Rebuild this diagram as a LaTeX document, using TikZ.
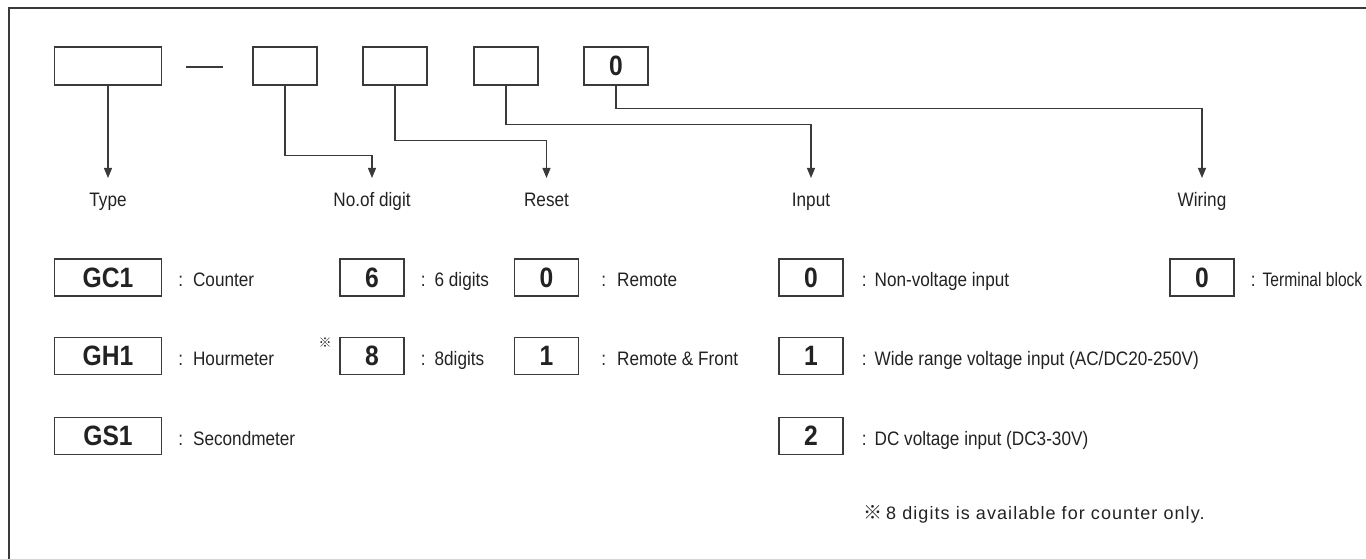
\documentclass[tikz,border=0pt]{standalone}
\usepackage{fontspec}
\setmainfont{Liberation Sans}[FakeStretch=0.88]
\newfontfamily\narrowfont{Liberation Sans}[FakeStretch=0.8]
\newfontfamily\notefont{Liberation Sans}[LetterSpace=6]
\newfontfamily\cjk{Noto Sans CJK JP}
\usetikzlibrary{arrows.meta,positioning}
\definecolor{ink}{HTML}{222222}
\definecolor{rule}{HTML}{3A3A3A}

\begin{document}
\begin{tikzpicture}[
  x=1pt, y=-1pt,
  font=\fontsize{19.5}{22}\selectfont,
  text=ink,
  frame/.style={draw=rule, line width=2pt},
  code/.style={draw=rule, line width=1.3pt, minimum width=64pt, minimum height=37pt, inner sep=0pt, font=\fontsize{28}{30}\selectfont\bfseries},
  widecode/.style={code, minimum width=107pt},
  link/.style={draw=rule, line width=1.1pt},
  arr/.style={link, -{Triangle[length=10pt,width=8pt]}},
  lbl/.style={inner sep=0pt, outer ysep=15pt, text height=13.6pt, text depth=4pt, anchor=north},
  desc/.style={inner sep=0pt, text height=18pt, text depth=0pt, anchor=west}
]
\useasboundingbox (0,0) rectangle (1366,559);

\draw[frame] (9,559) -- (9,8) -- (1366,8);

% model code
\node[widecode, minimum height=38pt] (t1) at (108,66) {};
\draw[link] (186,67) -- (223,67);
\node[code, minimum height=38pt] (t2) at (285,66) {};
\node[code, minimum height=38pt] (t3) at (395,66) {};
\node[code, minimum height=38pt] (t4) at (506,66) {};
\node[code, minimum height=38pt] (t5) at (616,66) {0};

\node[lbl] (lType) at (108,178) {Type};
\node[lbl] (lDigit) at (372,178) {No.of digit};
\node[lbl] (lReset) at (546.5,178) {Reset};
\node[lbl] (lInput) at (811,178) {Input};
\node[lbl] (lWiring) at (1202,178) {Wiring};

\draw[arr] (t1.south) -- (lType.north);
\draw[arr] (t2.south) -- ++(0,70) -| (lDigit.north);
\draw[arr] (t3.south) -- ++(0,55) -| (lReset.north);
\draw[arr] (t4.south) -- ++(0,39) -| (lInput.north);
\draw[arr] (t5.south) -- ++(0,23) -| (lWiring.north);

% type
\node[widecode] (gc1) at (108,277.5) {GC1};
\node[widecode] (gh1) at (108,356) {GH1};
\node[widecode] (gs1) at (108,436) {GS1};
\node[desc, right=16pt of gc1] (dgc1) {:\hspace{10pt}Counter};
\node[desc, right=16pt of gh1] (dgh1) {:\hspace{10pt}Hourmeter};
\node[desc, right=16pt of gs1] (dgs1) {:\hspace{10pt}Secondmeter};

% digits
\node[code] (d6) at (372,277.5) {6};
\node[code] (d8) at (372,356) {8};
\node[inner sep=0pt] (mark8) at (325,343) {\cjk\fontsize{13}{13}\selectfont ※};
\node[desc, right=16pt of d6] (dd6) {:\hspace{9pt}6 digits};
\node[desc, right=16pt of d8] (dd8) {:\hspace{9pt}8digits};

% reset
\node[code] (r0) at (546.5,277.5) {0};
\node[code] (r1) at (546.5,356) {1};
\node[desc, right=22pt of r0] (dr0) {:\hspace{11pt}Remote};
\node[desc, right=22pt of r1] (dr1) {:\hspace{11pt}Remote \& Front};

% input
\node[code] (i0) at (811,277.5) {0};
\node[code] (i1) at (811,356) {1};
\node[code] (i2) at (811,436) {2};
\node[desc, right=18pt of i0] (di0) {:\hspace{8pt}Non-voltage input};
\node[desc, right=18pt of i1] (di1) {:\hspace{8pt}Wide range voltage input (AC/DC20-250V)};
\node[desc, right=18pt of i2] (di2) {:\hspace{8pt}DC voltage input (DC3-30V)};

% wiring
\node[code] (w0) at (1202,277.5) {0};
\node[desc, right=16pt of w0] (dw0) {:\hspace{7pt}{\narrowfont Terminal block}};

\node[anchor=base west, inner sep=0pt] (note) at (863,519)
  {{\cjk\fontsize{19}{19}\selectfont ※}\hspace{4pt}{\notefont\fontsize{18}{20}\selectfont 8 digits is available for counter only.}};

\end{tikzpicture}
\end{document}
